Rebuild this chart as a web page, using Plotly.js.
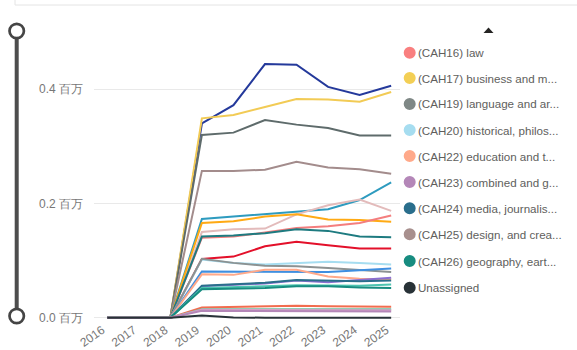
<!DOCTYPE html>
<html>
<head>
<meta charset="utf-8">
<script src="https://cdn.plot.ly/plotly-3.0.1.min.js"></script>
<style>html,body{margin:0;padding:0;background:#fff;}#chart{width:577px;height:350px;}</style>
</head>
<body>
<div id="chart"></div>
<script>
// ---- data ----
const years = ["2016","2017","2018","2019","2020","2021","2022","2023","2024","2025"];

const seriesNames = [
  "(CAH02) subjects allied to medicine",
  "(CAH17) business and management",
  "(CAH15) social sciences",
  "(CAH25) design, and creative and performing arts",
  "(CAH11) computing",
  "(CAH04) psychology",
  "(CAH10) engineering and technology",
  "(CAH16) law",
  "(CAH03) biological and sport sciences",
  "(CAH01) medicine and dentistry",
  "(CAH20) historical, philosophical and religious studies",
  "(CAH19) language and area studies",
  "(CAH07) physical sciences",
  "(CAH22) education and teaching",
  "(CAH13) architecture, building and planning",
  "(CAH24) media, journalism and communications",
  "(CAH09) mathematical sciences",
  "(CAH26) geography, earth and environmental studies",
  "(CAH05) veterinary sciences",
  "(CAH06) agriculture, food and related studies",
  "(CAH08) general and others in sciences",
  "(CAH23) combined and general studies",
  "Unassigned"
];

const seriesValues = [
  [0,0,0,340000,372000,444000,443000,404000,390000,406000],
  [0,0,0,349000,355000,369000,383000,382000,378000,395000],
  [0,0,0,320000,324000,346000,338000,332000,319000,319000],
  [0,0,0,257000,257000,259000,273000,263000,260000,252000],
  [0,0,0,173000,177000,181000,186000,190000,206000,237000],
  [0,0,0,150000,155000,156000,181000,197000,207000,187000],
  [0,0,0,166000,169000,177000,181000,172000,171000,168000],
  [0,0,0,140000,142000,149000,157000,160000,166000,179000],
  [0,0,0,142000,144000,148000,155000,152000,142000,141000],
  [0,0,0,103000,107000,125000,133000,127000,121000,121000],
  [0,0,0,102000,96000,93000,96000,98000,96000,93000],
  [0,0,0,103000,96000,91000,90000,87000,84000,80000],
  [0,0,0,81000,81000,80000,80000,80000,83000,86000],
  [0,0,0,76000,75000,84000,84000,72000,68000,67000],
  [0,0,0,55000,57000,60000,65000,62000,66000,70000],
  [0,0,0,56000,58000,61000,66000,65000,64000,65000],
  [0,0,0,52000,53000,55000,57000,57000,56000,58000],
  [0,0,0,50000,51000,52000,55000,55000,53000,52000],
  [0,0,0,18000,19000,20000,21000,20000,19000,19000],
  [0,0,0,15000,15000,16000,16000,16000,15000,15000],
  [0,0,0,14000,14000,14000,14000,14000,13000,13000],
  [0,0,0,12000,12000,12000,12000,12000,11000,11000],
  [0,0,0,4000,500,0,0,0,0,0]
];

const seriesColors = [
  "#24399B","#F2CB55","#5E6B6B","#A38C8C","#2E9BBF","#E3BBBB","#FFAA14","#F47E7E",
  "#1E7B80","#E3102A","#A6DDF0","#8C9292","#3F8FE0","#FFA98A","#8B6FD1","#2A6E8C",
  "#4CC4B0","#178C80","#F26C4F","#6CBF9C","#D8A0C8","#B487B8","#283237"
];

const legendLabels = [
  "(CAH16) law",
  "(CAH17) business and m...",
  "(CAH19) language and ar...",
  "(CAH20) historical, philos...",
  "(CAH22) education and t...",
  "(CAH23) combined and g...",
  "(CAH24) media, journalis...",
  "(CAH25) design, and crea...",
  "(CAH26) geography, eart...",
  "Unassigned"
];
const legendColors = ["#F97F7F","#F3CF55","#7F8886","#A6DDF0","#FFA98A","#B487B8","#2A6E8C","#A8908E","#178C80","#283237"];

const yTickVals = [0, 200000, 400000];
const yTickText = ["0.0 百万", "0.2 百万", "0.4 百万"];

// ---- layout geometry ----
const W = 577, H = 350;
const M = {l: 94, r: 177, t: 55, b: 30};
const PW = W - M.l - M.r, PH = H - M.t - M.b;
const px = v => (v - M.l) / PW;
const py = v => (H - M.b - v) / PH;

const FONT = "'Segoe UI', 'Liberation Sans', Arial, sans-serif";

const traces = seriesNames.map((n, i) => ({
  type: "scatter",
  mode: "lines",
  name: n,
  x: years,
  y: seriesValues[i],
  line: {color: seriesColors[i], width: 2},
  showlegend: false,
  hoverinfo: "skip"
}));

const shapes = [];
const annotations = [];

// legend (scrolled custom legend)
const legY = [52.7, 78, 104, 130, 156, 182, 208.3, 234.3, 261, 287.7];
legendLabels.forEach((t, i) => {
  const cx = 409.7, cy = legY[i], r = 6;
  shapes.push({type: "circle", xref: "paper", yref: "paper",
    x0: px(cx - r), x1: px(cx + r), y0: py(cy + r), y1: py(cy - r),
    fillcolor: legendColors[i], line: {width: 0}});
  annotations.push({xref: "paper", yref: "paper", x: px(416), y: py(cy),
    xanchor: "left", yanchor: "middle", showarrow: false, text: t,
    font: {family: FONT, size: 11.6, color: "#605E5C"}});
});

// legend scroll arrow
shapes.push({type: "path", xref: "paper", yref: "paper",
  path: `M ${px(483.5)} ${py(33)} L ${px(493.5)} ${py(33)} L ${px(488.5)} ${py(27.5)} Z`,
  fillcolor: "#252423", line: {width: 0}});

// top box outline
shapes.push({type: "rect", xref: "paper", yref: "paper",
  x0: px(15), x1: px(620), y0: py(5), y1: py(-30),
  fillcolor: "rgba(0,0,0,0)", line: {color: "#E4E4E4", width: 1}});

// left slider
shapes.push({type: "line", xref: "paper", yref: "paper",
  x0: px(16.7), x1: px(16.7), y0: py(31), y1: py(316),
  line: {color: "#4D4D4D", width: 4}});
[31, 316].forEach(cy => {
  const r = 7.2;
  shapes.push({type: "circle", xref: "paper", yref: "paper",
    x0: px(16.7 - r), x1: px(16.7 + r), y0: py(cy + r), y1: py(cy - r),
    fillcolor: "#FFFFFF", line: {color: "#454545", width: 2.7}});
});

const layout = {
  width: W, height: H,
  margin: M,
  paper_bgcolor: "#FFFFFF",
  plot_bgcolor: "#FFFFFF",
  showlegend: false,
  font: {family: FONT, size: 12, color: "#777777"},
  xaxis: {
    type: "category",
    range: [-0.42, 9.28],
    showgrid: false, zeroline: false, showline: false,
    tickangle: -35,
    ticks: "",
    ticklabelshift: -5,
    tickfont: {family: FONT, size: 12, color: "#777777"}
  },
  yaxis: {
    range: [-4000, 459900],
    tickvals: yTickVals, ticktext: yTickText,
    showgrid: true, gridcolor: "#E9E9E9", gridwidth: 1,
    zeroline: false, showline: false,
    ticks: "",
    ticklabelstandoff: 10,
    tickfont: {family: FONT, size: 12, color: "#777777"}
  },
  shapes: shapes,
  annotations: annotations
};

Plotly.newPlot("chart", traces, layout, {displayModeBar: false, staticPlot: true});
</script>
</body>
</html>
